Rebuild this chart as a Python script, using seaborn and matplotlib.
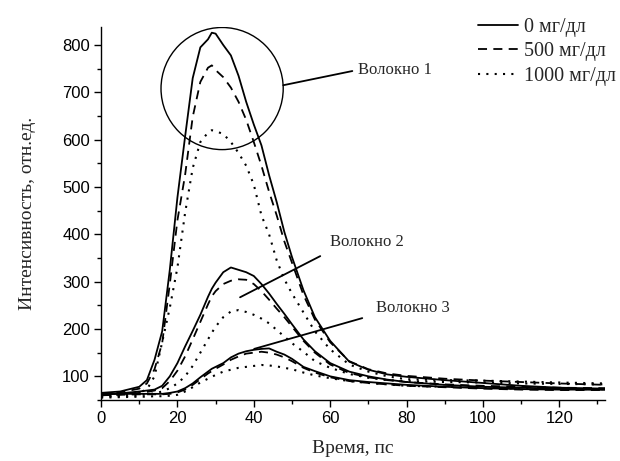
import numpy as np
import pandas as pd
import matplotlib
matplotlib.use("Agg")
import matplotlib.pyplot as plt
import seaborn as sns
from matplotlib.patches import Ellipse
from matplotlib.lines import Line2D

# ---- data ----
time_ps = [0, 5, 10, 12, 14, 16, 18, 20, 22, 24, 26, 28, 29, 30, 32, 34, 36, 38, 40,
           42, 44, 46, 48, 50, 53, 56, 60, 65, 70, 75, 80, 90, 100, 110, 120, 132]

fiber1_0 = [65, 68, 78, 92, 135, 195, 325, 478, 606, 730, 795, 812, 826, 824, 800, 778, 735, 680, 632,
            588, 525, 468, 405, 352, 282, 225, 175, 131, 114, 104, 99, 92, 86, 80, 76, 74]
fiber1_500 = [63, 66, 74, 85, 115, 170, 295, 430, 525, 648, 722, 752, 757, 747, 732, 710, 680, 642, 595,
              545, 490, 440, 385, 340, 272, 220, 172, 132, 115, 106, 101, 95, 91, 88, 85, 82]
fiber1_1000 = [58, 60, 66, 72, 100, 172, 245, 330, 445, 540, 595, 615, 620, 618, 612, 595, 572, 545, 505,
               440, 400, 345, 305, 275, 235, 195, 157, 125, 110, 100, 94, 92, 91, 89, 87, 85]

fiber2_0 = [62, 64, 68, 70, 72, 80, 100, 128, 163, 196, 230, 268, 285, 298, 320, 330, 325, 320, 312,
            295, 275, 253, 232, 210, 178, 153, 128, 110, 100, 93, 88, 82, 78, 76, 74, 72]
fiber2_500 = [60, 62, 65, 67, 70, 75, 90, 112, 142, 178, 215, 252, 269, 280, 295, 302, 305, 304, 295,
              280, 262, 243, 225, 205, 175, 150, 125, 107, 98, 92, 88, 83, 80, 78, 76, 75]
fiber2_1000 = [57, 58, 60, 62, 64, 68, 75, 85, 100, 122, 150, 178, 192, 205, 225, 237, 240, 236, 230,
               222, 212, 198, 184, 170, 152, 132, 118, 105, 97, 92, 90, 88, 87, 85, 84, 83]

fiber3_0 = [62, 63, 63, 63, 63, 63, 65, 68, 75, 85, 98, 110, 116, 120, 128, 140, 148, 153, 156,
            158, 159, 152, 146, 137, 120, 111, 100, 92, 88, 85, 82, 78, 75, 73, 72, 72]
fiber3_500 = [60, 61, 62, 62, 62, 62, 63, 66, 72, 82, 94, 106, 111, 116, 125, 135, 142, 148, 150,
              152, 150, 146, 140, 132, 118, 108, 98, 90, 86, 83, 80, 77, 74, 72, 71, 71]
fiber3_1000 = [55, 56, 57, 57, 58, 58, 59, 61, 68, 77, 87, 95, 99, 103, 110, 114, 118, 120, 122,
               124, 123, 121, 118, 115, 108, 102, 96, 90, 86, 83, 80, 78, 76, 74, 73, 73]

concentrations = ["0 мг/дл", "500 мг/дл", "1000 мг/дл"]
fiber_names = ["Волокно 1", "Волокно 2", "Волокно 3"]
x_ticks = [0, 20, 40, 60, 80, 100, 120]
y_ticks = [100, 200, 300, 400, 500, 600, 700, 800]

series = {
    ("Волокно 1", "0 мг/дл"): fiber1_0,
    ("Волокно 1", "500 мг/дл"): fiber1_500,
    ("Волокно 1", "1000 мг/дл"): fiber1_1000,
    ("Волокно 2", "0 мг/дл"): fiber2_0,
    ("Волокно 2", "500 мг/дл"): fiber2_500,
    ("Волокно 2", "1000 мг/дл"): fiber2_1000,
    ("Волокно 3", "0 мг/дл"): fiber3_0,
    ("Волокно 3", "500 мг/дл"): fiber3_500,
    ("Волокно 3", "1000 мг/дл"): fiber3_1000,
}

rows = []
for (fib, conc), vals in series.items():
    for t, v in zip(time_ps, vals):
        rows.append({"fiber": fib, "conc": conc, "t": t, "I": v})
df = pd.DataFrame(rows)

# ---- styling ----
sns.set_theme(style="ticks")
plt.rcParams["font.family"] = ["Liberation Sans", "DejaVu Sans"]
SERIF = ["Liberation Serif", "DejaVu Serif"]

fig = plt.figure(figsize=(6.2, 4.61), dpi=100)
ax = fig.add_axes([0.163, 0.1323, 0.813, 0.8091])

styles = {
    "0 мг/дл": dict(linestyle="-", linewidth=1.3),
    "500 мг/дл": dict(linestyle=(0, (5, 3.5)), linewidth=1.3),
    "1000 мг/дл": dict(linestyle=(0, (1, 3)), linewidth=1.5),
}

for (fib, conc) in series.keys():
    sub = df[(df.fiber == fib) & (df.conc == conc)]
    sns.lineplot(data=sub, x="t", y="I", ax=ax, color="black",
                 legend=False, **styles[conc])

ax.set_xlim(0, 132)
ax.set_ylim(50, 838)
ax.set_xticks(x_ticks)
ax.set_yticks(y_ticks)
ax.xaxis.set_minor_locator(matplotlib.ticker.MultipleLocator(10))
ax.yaxis.set_minor_locator(matplotlib.ticker.MultipleLocator(50))
ax.tick_params(which="major", direction="out", length=5, width=1.0, colors="black",
               labelsize=12, pad=3)
ax.tick_params(which="minor", direction="out", length=2.8, width=1.0, colors="black")
for s in ["top", "right"]:
    ax.spines[s].set_visible(False)
for s in ["left", "bottom"]:
    ax.spines[s].set_linewidth(1.0)
    ax.spines[s].set_color("black")

ax.set_xlabel("Время, пс", family=SERIF, fontsize=14, labelpad=10)
ax.set_ylabel("Интенсивность, отн.ед.", family=SERIF, fontsize=14, labelpad=19)

# circle around fiber 1 peak
ax.add_patch(Ellipse((31.7, 708), 32.0, 258, fill=False, edgecolor="black", linewidth=1.0))

# annotation lines and labels
ann = [
    ((47.7, 715), (65.8, 745), (67.4, 747)),
    ((36.4, 267), (57.4, 354), (60.0, 384)),
    ((40.1, 158), (68.4, 223), (72.1, 244)),
]
for name, (p0, p1, tp) in zip(fiber_names, ann):
    ax.plot([p0[0], p1[0]], [p0[1], p1[1]], color="black", linewidth=1.3)
    ax.text(tp[0], tp[1], name, family=SERIF, fontsize=12, ha="left", va="center")

handles = [Line2D([0], [0], color="black", **styles[c]) for c in concentrations]
fig.legend(handles, concentrations, loc="upper left", bbox_to_anchor=(0.771, 0.962),
           frameon=False, prop={"family": SERIF, "size": 14.5}, handlelength=2.0,
           handletextpad=0.3, labelspacing=0.28, borderpad=0, borderaxespad=0)

fig.savefig("out.png", dpi=100)
